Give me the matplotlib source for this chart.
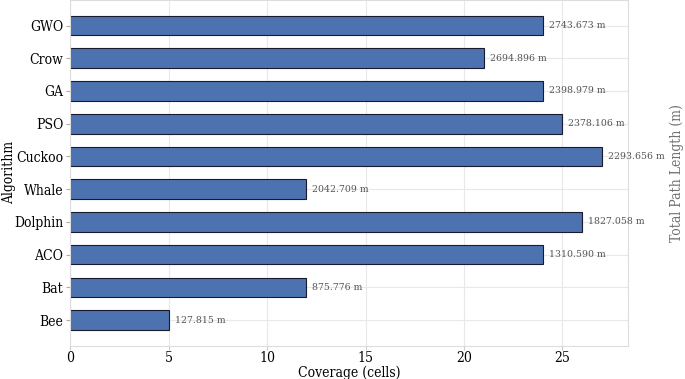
import matplotlib
matplotlib.use("Agg")
import matplotlib.pyplot as plt

algorithms = ["GWO", "Crow", "GA", "PSO", "Cuckoo", "Whale", "Dolphin", "ACO", "Bat", "Bee"]
coverage = [24, 21, 24, 25, 27, 12, 26, 24, 12, 5]
path_length = [2743.673, 2694.896, 2398.979, 2378.106, 2293.656, 2042.709,
               1827.058, 1310.590, 875.776, 127.815]

plt.rcParams['font.family'] = ['DejaVu Serif']
plt.rcParams['font.stretch'] = 'condensed'

fig = plt.figure(figsize=(6.85, 3.79), dpi=100)
ax = fig.add_axes([0.1026, 0.088, 0.8146, 0.912])

ypos = list(range(len(algorithms)))[::-1]
ax.barh(ypos, coverage, height=0.6, color="#4c72b0", edgecolor="#1a1a2e",
        linewidth=0.8, zorder=2)

for y, c, p in zip(ypos, coverage, path_length):
    ax.text(c + 0.3, y, f"{p:.3f} m", va="center", ha="left",
            fontsize=7.5, color="#555555", zorder=3)

ax.set_yticks(ypos)
ax.set_yticklabels(algorithms, fontsize=10)
ax.set_xlim(0, max(coverage) * 1.05)
ax.set_xticks([0, 5, 10, 15, 20, 25])
ax.tick_params(axis='x', labelsize=10, length=3, color="#cccccc", pad=1)
ax.tick_params(axis='y', labelsize=10, length=3, color="#aaaaaa", pad=2)
ax.set_xlabel("Coverage (cells)", fontsize=10, labelpad=0)
ax.set_ylabel("Algorithm", fontsize=10)
ax.yaxis.set_label_coords(-0.097, 0.5)
ax.grid(True, color="#e8e8e8", linewidth=0.8, zorder=0)
ax.set_axisbelow(True)
for s in ax.spines.values():
    s.set_color("#dddddd")

fig.text(677 / 685, 0.543, "Total Path Length (m)", rotation=90,
         ha="center", va="center", fontsize=10, color="#707070")

fig.savefig("out.png", dpi=100)
